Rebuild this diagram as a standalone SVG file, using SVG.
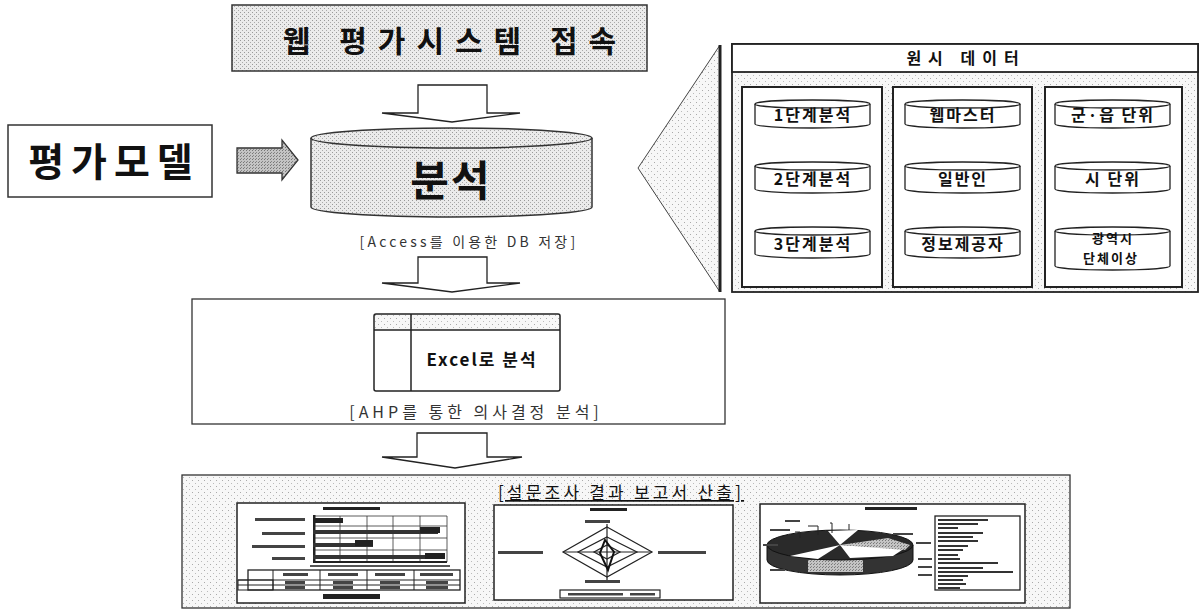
<svg xmlns="http://www.w3.org/2000/svg" width="1200" height="611" viewBox="0 0 1200 611">
<defs>
  <pattern id="stipL" width="6" height="6" patternUnits="userSpaceOnUse">
    <rect width="6" height="6" fill="#f7f7f7"/>
    <rect x="0" y="0" width="1" height="1" fill="#aaa"/>
    <rect x="3" y="3" width="1" height="1" fill="#bbb"/>
  </pattern>
  <pattern id="stipM" width="4" height="4" patternUnits="userSpaceOnUse">
    <rect width="4" height="4" fill="#ebebeb"/>
    <rect x="0" y="0" width="1" height="1" fill="#999"/>
    <rect x="2" y="2" width="1" height="1" fill="#aaa"/>
  </pattern>
  <pattern id="stipD" width="3" height="3" patternUnits="userSpaceOnUse">
    <rect width="3" height="3" fill="#c4c4c4"/>
    <rect x="0" y="0" width="1" height="1" fill="#777"/>
    <rect x="1" y="2" width="1" height="1" fill="#888"/>
  </pattern>
  <style>
    .k{font-family:"Noto Sans CJK KR","Noto Sans",sans-serif;fill:#111}
    .b{font-weight:700}
    .box{fill:#fff;stroke:#222;stroke-width:2}
    .cyl{fill:#fff;stroke:#222;stroke-width:1.3}
    .cyt{font-family:"Noto Sans CJK KR","Noto Sans",sans-serif;font-weight:700;font-size:16px;fill:#111;text-anchor:middle;letter-spacing:2px}
    .cap{font-family:"Noto Sans CJK KR","Noto Sans",sans-serif;fill:#333;text-anchor:middle}
    .arr{fill:#fff;stroke:#222;stroke-width:1.3}
    .blk{fill:#222}
    .thin{fill:none;stroke:#333;stroke-width:0.8}
  </style>
</defs>
<rect width="1200" height="611" fill="#fff"/>

<g id="web-access">
  <rect x="232" y="5" width="415" height="66" fill="url(#stipM)" stroke="#333" stroke-width="1.5"/>
  <text x="455" y="52" class="k b" font-size="30" text-anchor="middle" letter-spacing="11">웹 평가시스템 접속</text>
</g>

<g id="eval-model">
  <rect x="8" y="125" width="204" height="72" fill="#fff" stroke="#333" stroke-width="1.5"/>
  <text x="114" y="176" class="k b" font-size="39" text-anchor="middle" letter-spacing="7">평가모델</text>
</g>

<g id="analysis-db">
  <path d="M311,138 V207 A140.5,10 0 0 0 592,207 V138" fill="url(#stipM)" stroke="#333" stroke-width="1.5"/>
  <ellipse cx="451.5" cy="138" rx="140.5" ry="10" fill="url(#stipM)" stroke="#333" stroke-width="1.5"/>
  <text x="451" y="196" class="k b" font-size="42" text-anchor="middle" letter-spacing="2">분석</text>
  <text x="469" y="247" class="cap" font-size="14" letter-spacing="3.2">[Access를 이용한 DB 저장]</text>
</g>

<g id="raw-data">
  <path d="M720,45 L638,168 L720,292 Z" fill="url(#stipL)" stroke="#444" stroke-width="1"/>
  <line x1="720" y1="45" x2="720" y2="292" stroke="#222" stroke-width="3"/>
  <rect x="732" y="44" width="466" height="248" fill="url(#stipL)" stroke="#222" stroke-width="1.8"/>
  <rect x="732" y="44" width="466" height="28" fill="#fff" stroke="#222" stroke-width="1.8"/>
  <text x="966" y="64" class="k b" font-size="16" text-anchor="middle" letter-spacing="7">원시 데이터</text>
  <rect x="742" y="87" width="140" height="200" class="box"/>
  <rect x="893" y="87" width="139" height="200" class="box"/>
  <rect x="1045" y="87" width="137" height="200" class="box"/>

  <g id="cyl-stage1">
    <path class="cyl" d="M755,104 V124 A57.5,4 0 0 0 870,124 V104"/>
    <ellipse class="cyl" cx="812.5" cy="104" rx="57.5" ry="4"/>
    <text x="813" y="121" class="cyt">1단계분석</text>
  </g>
  <g id="cyl-stage2">
    <path class="cyl" d="M755,166 V189 A57.5,4 0 0 0 870,189 V166"/>
    <ellipse class="cyl" cx="812.5" cy="166" rx="57.5" ry="4"/>
    <text x="813" y="185" class="cyt">2단계분석</text>
  </g>
  <g id="cyl-stage3">
    <path class="cyl" d="M755,231 V254 A57.5,4 0 0 0 870,254 V231"/>
    <ellipse class="cyl" cx="812.5" cy="231" rx="57.5" ry="4"/>
    <text x="813" y="250" class="cyt">3단계분석</text>
  </g>

  <g id="cyl-webmaster">
    <path class="cyl" d="M905,104 V124 A57.5,4 0 0 0 1020,124 V104"/>
    <ellipse class="cyl" cx="962.5" cy="104" rx="57.5" ry="4"/>
    <text x="963" y="121" class="cyt">웹마스터</text>
  </g>
  <g id="cyl-public">
    <path class="cyl" d="M905,166 V189 A57.5,4 0 0 0 1020,189 V166"/>
    <ellipse class="cyl" cx="962.5" cy="166" rx="57.5" ry="4"/>
    <text x="963" y="185" class="cyt">일반인</text>
  </g>
  <g id="cyl-provider">
    <path class="cyl" d="M905,231 V254 A57.5,4 0 0 0 1020,254 V231"/>
    <ellipse class="cyl" cx="962.5" cy="231" rx="57.5" ry="4"/>
    <text x="963" y="250" class="cyt">정보제공자</text>
  </g>

  <g id="cyl-county">
    <path class="cyl" d="M1055,104 V124 A57.5,4 0 0 0 1170,124 V104"/>
    <ellipse class="cyl" cx="1112.5" cy="104" rx="57.5" ry="4"/>
    <text x="1113" y="121" class="cyt">군·읍 단위</text>
  </g>
  <g id="cyl-city">
    <path class="cyl" d="M1055,166 V189 A57.5,4 0 0 0 1170,189 V166"/>
    <ellipse class="cyl" cx="1112.5" cy="166" rx="57.5" ry="4"/>
    <text x="1113" y="185" class="cyt">시 단위</text>
  </g>
  <g id="cyl-metro">
    <path class="cyl" d="M1055,231 V266 A57.5,4 0 0 0 1170,266 V231"/>
    <ellipse class="cyl" cx="1112.5" cy="231" rx="57.5" ry="4"/>
    <text x="1113" y="243" class="cyt" style="font-size:13px">광역시</text>
    <text x="1111" y="263" class="cyt" style="font-size:13px">단체이상</text>
  </g>
</g>

<g id="excel-analysis">
  <rect x="192" y="299" width="533" height="125" fill="#fff" stroke="#333" stroke-width="1.3"/>
  <rect x="374" y="314" width="186" height="16" fill="url(#stipL)"/>
  <rect x="374" y="314" width="186" height="77" rx="2" fill="none" stroke="#222" stroke-width="1.5"/>
  <line x1="374" y1="330" x2="560" y2="330" stroke="#222" stroke-width="1.5"/>
  <line x1="411" y1="314" x2="411" y2="391" stroke="#222" stroke-width="1.5"/>
  <text x="482" y="366" class="k b" font-size="17" text-anchor="middle" letter-spacing="2">Excel로 분석</text>
  <text x="476" y="418" class="cap" font-size="16" letter-spacing="4">[AHP를 통한 의사결정 분석]</text>
</g>

<g id="report-output">
  <rect x="182" y="475" width="888" height="133" fill="url(#stipL)" stroke="#333" stroke-width="1.3"/>
  <text x="621" y="499" class="k" font-size="17" text-anchor="middle" letter-spacing="3.2" text-decoration="underline">[설문조사 결과 보고서 산출]</text>

  <g id="bar-chart">
    <rect x="237" y="503" width="228" height="100" fill="#fff" stroke="#222" stroke-width="1.5"/>
    <rect x="323" y="507" width="57" height="3" class="blk"/>
    <rect x="255" y="518" width="50" height="3" fill="#444"/>
    <rect x="262" y="532" width="43" height="3" fill="#444"/>
    <rect x="252" y="545" width="53" height="3" fill="#444"/>
    <rect x="272" y="557" width="33" height="3" fill="#444"/>
    <g class="thin">
      <path d="M313,516 H447 M313,526 H447 M313,538 H447 M313,550 H447 M313,562 H447"/>
      <path d="M340,516 V562 M367,516 V562 M393,516 V562 M420,516 V562 M447,516 V562"/>
    </g>
    <rect x="313" y="515" width="2.5" height="48" class="blk"/>
    <rect x="313" y="518" width="30" height="5" class="blk"/>
    <rect x="313" y="530" width="125" height="4" fill="#333"/>
    <rect x="420" y="527" width="20" height="6" class="blk"/>
    <rect x="313" y="543" width="60" height="4" fill="#333"/>
    <rect x="355" y="540" width="18" height="6" class="blk"/>
    <rect x="313" y="555" width="130" height="4" fill="#333"/>
    <rect x="425" y="553" width="20" height="6" class="blk"/>
    <rect x="313" y="561" width="134" height="2" class="blk"/>
    <rect x="310" y="565" width="140" height="2" fill="#555"/>
    <rect x="248" y="570" width="212" height="20" fill="#fff" stroke="#222" stroke-width="1.3"/>
    <line x1="273" y1="570" x2="273" y2="590" stroke="#222"/>
    <line x1="238" y1="580" x2="460" y2="580" stroke="#222"/>
    <line x1="238" y1="585" x2="460" y2="585" stroke="#222"/>
    <rect x="238" y="580" width="35" height="10" fill="none" stroke="#222"/>
    <line x1="320" y1="570" x2="320" y2="590" stroke="#222"/>
    <line x1="367" y1="570" x2="367" y2="590" stroke="#222"/>
    <line x1="414" y1="570" x2="414" y2="590" stroke="#222"/>
    <rect x="283" y="573" width="25" height="3" fill="#444"/>
    <rect x="328" y="573" width="30" height="3" fill="#444"/>
    <rect x="375" y="573" width="30" height="3" fill="#444"/>
    <rect x="420" y="573" width="33" height="3" fill="#444"/>
    <rect x="285" y="581" width="20" height="3" fill="#444"/>
    <rect x="333" y="581" width="20" height="3" fill="#444"/>
    <rect x="380" y="581" width="20" height="3" fill="#444"/>
    <rect x="426" y="581" width="22" height="3" fill="#444"/>
    <rect x="285" y="586" width="20" height="3" fill="#444"/>
    <rect x="333" y="586" width="20" height="3" fill="#444"/>
    <rect x="380" y="586" width="20" height="3" fill="#444"/>
    <rect x="426" y="586" width="22" height="3" fill="#444"/>
    <rect x="323" y="594" width="57" height="5" class="blk"/>
  </g>

  <g id="radar-chart">
    <rect x="494" y="505" width="239" height="95" fill="#fff" stroke="#222" stroke-width="1.5"/>
    <rect x="590" y="508" width="37" height="3" class="blk"/>
    <g fill="none" stroke="#222" stroke-width="1.2">
      <path d="M607,527 L652,552 L607,577 L563,552 Z"/>
      <path d="M607,537 L637,552 L607,567 L578,552 Z"/>
      <path d="M607,545 L620,552 L607,559 L594,552 Z"/>
      <path d="M607,524 V580 M563,552 H652"/>
    </g>
    <path d="M605,540 L614,552 L608,570 L600,553 Z" fill="none" stroke="#111" stroke-width="2"/>
    <rect x="585" y="520" width="25" height="3" fill="#444"/>
    <rect x="498" y="551" width="45" height="3" fill="#444"/>
    <rect x="658" y="551" width="48" height="3" fill="#444"/>
    <rect x="585" y="580" width="35" height="3" fill="#444"/>
    <rect x="560" y="590" width="100" height="8" fill="#fff" stroke="#222" stroke-width="1.2"/>
    <rect x="568" y="593" width="55" height="2.5" fill="#444"/>
    <rect x="630" y="593" width="25" height="2.5" fill="#444"/>
  </g>

  <g id="pie-chart">
    <rect x="760" y="504" width="265" height="99" fill="#fff" stroke="#222" stroke-width="1.5"/>
    <rect x="865" y="507" width="52" height="3" class="blk"/>
    <path d="M767,545 V560 A73,15 0 0 0 913,560 V545" fill="#333" stroke="#111"/>
    <rect x="808" y="560" width="55" height="12" fill="url(#stipD)"/>
    <ellipse cx="840" cy="545" rx="73" ry="15" fill="#2a2a2a" stroke="#111"/>
    <path d="M840,545 L828,531 L858,530 Z" fill="#fff"/>
    <path d="M840,545 L905,548 L893,556 L850,558 Z" fill="#fff"/>
    <path d="M840,545 L888,538 L910,545 L905,550 Z" fill="url(#stipD)"/>
    <path d="M840,545 L790,556 L818,559 Z" fill="#fff"/>
    <g fill="none" stroke="#222" stroke-width="1">
      <path d="M830,523 H832 V533 M808,526 H818 V535 M795,532 H800 V538 M849,524 V530"/>
    </g>
    <rect x="785" y="520" width="15" height="2" fill="#444"/>
    <rect x="770" y="529" width="20" height="2" fill="#444"/>
    <rect x="763" y="544" width="15" height="2" fill="#444"/>
    <rect x="770" y="569" width="15" height="2" fill="#444"/>
    <rect x="893" y="533" width="20" height="2" fill="#444"/>
    <rect x="916" y="542" width="15" height="2" fill="#444"/>
    <rect x="918" y="558" width="14" height="2" fill="#444"/>
    <rect x="918" y="566" width="14" height="2" fill="#444"/>
    <rect x="918" y="574" width="14" height="2" fill="#444"/>
    <rect x="935" y="516" width="85" height="74" fill="#fff" stroke="#222" stroke-width="1.3"/>
    <g fill="#333">
      <rect x="938" y="519" width="50" height="2"/>
      <rect x="938" y="523" width="40" height="2"/>
      <rect x="938" y="527" width="20" height="2"/>
      <rect x="938" y="532" width="45" height="2"/>
      <rect x="938" y="536" width="35" height="2"/>
      <rect x="938" y="540" width="40" height="2"/>
      <rect x="938" y="545" width="30" height="2"/>
      <rect x="938" y="549" width="25" height="2"/>
      <rect x="938" y="554" width="20" height="2"/>
      <rect x="938" y="558" width="22" height="2"/>
      <rect x="938" y="562" width="60" height="2"/>
      <rect x="938" y="567" width="45" height="2"/>
      <rect x="938" y="571" width="75" height="2"/>
      <rect x="938" y="575" width="30" height="2"/>
      <rect x="938" y="579" width="25" height="2"/>
      <rect x="938" y="583" width="28" height="2"/>
      <rect x="938" y="587" width="22" height="2"/>
    </g>
  </g>
</g>

<g id="connectors">
  <path d="M237,148 H282 V140 L298,160 L282,180 V173 H237 Z" fill="url(#stipD)" stroke="#333" stroke-width="1.3"/>
  <path class="arr" d="M418,85 H487 V113 H520 L452,122 L382,113 H418 Z"/>
  <path class="arr" d="M418,257 H487 V283 H520 L452,292 L382,283 H418 Z"/>
  <path class="arr" d="M417,433 H487 V457 H522 L455,468 L382,457 H417 Z"/>
</g>
</svg>
